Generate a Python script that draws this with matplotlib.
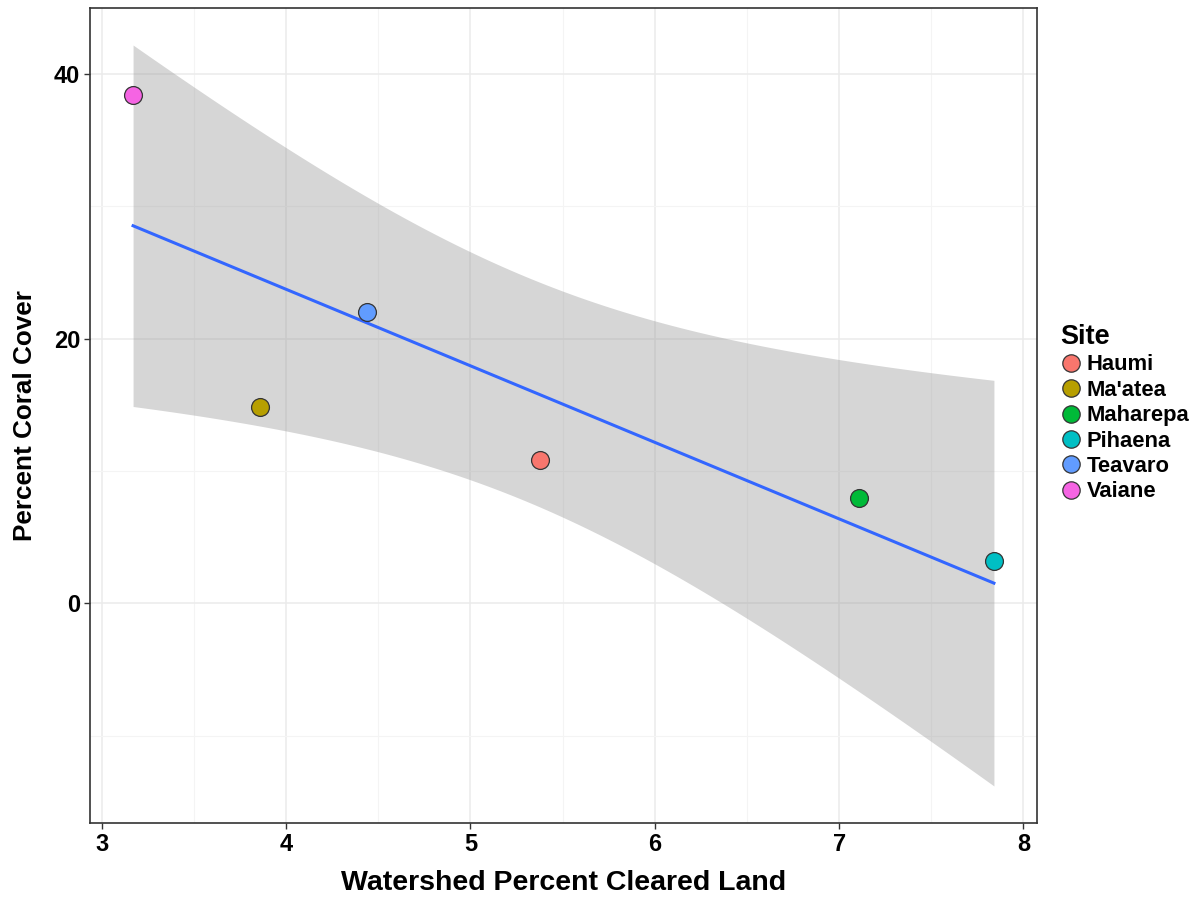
import numpy as np
import matplotlib
matplotlib.use('Agg')
import matplotlib.pyplot as plt
from matplotlib.lines import Line2D

plt.rcParams['font.family'] = ['Liberation Sans', 'DejaVu Sans']
plt.rcParams['font.weight'] = 'bold'

sites = ['Haumi', "Ma'atea", 'Maharepa', 'Pihaena', 'Teavaro', 'Vaiane']
cleared = [5.38, 3.86, 7.11, 7.84, 4.44, 3.17]
coral = [10.85, 14.85, 7.95, 3.2, 22.05, 38.4]
colors = ['#F8766D', '#B79F00', '#00BA38', '#00BFC4', '#619CFF', '#F564E3']

x = np.array(cleared)
y = np.array(coral)

# linear fit with 95% confidence band (t quantile for df = n - 2 = 4)
n = len(x)
slope, intercept = np.polyfit(x, y, 1)
resid = y - (intercept + slope * x)
s = np.sqrt(np.sum(resid ** 2) / (n - 2))
t_crit = 2.776445
xs = np.linspace(x.min(), x.max(), 200)
fit = intercept + slope * xs
se = s * np.sqrt(1 / n + (xs - x.mean()) ** 2 / np.sum((x - x.mean()) ** 2))
lo = fit - t_crit * se
hi = fit + t_crit * se

fig = plt.figure(figsize=(12.02, 8.97), dpi=100)
ax = fig.add_axes([0.0749, 0.0825, 0.7878, 0.9086])

# grid
for v in [3, 4, 5, 6, 7, 8]:
    ax.axvline(v, color='#ebebeb', lw=1.1, zorder=0)
for v in [3.5, 4.5, 5.5, 6.5, 7.5]:
    ax.axvline(v, color='#f4f4f4', lw=0.8, zorder=0)
for v in [0, 20, 40]:
    ax.axhline(v, color='#ebebeb', lw=1.1, zorder=0)
for v in [-10, 10, 30]:
    ax.axhline(v, color='#f4f4f4', lw=0.8, zorder=0)

ax.fill_between(xs, lo, hi, color='#999999', alpha=0.4, lw=0, zorder=1)
ax.plot(xs, fit, color='#3366FF', lw=2.2, zorder=2)

for xi, yi, c in zip(cleared, coral, colors):
    ax.scatter(xi, yi, s=165, color=c, edgecolor='#333333', linewidth=0.9, zorder=3)

xr = x.max() - x.min()
ax.set_xlim(x.min() - 0.05 * xr, x.max() + 0.05 * xr)
yr = hi.max() - lo.min()
ax.set_ylim(lo.min() - 0.05 * yr, hi.max() + 0.05 * yr)

ax.set_xticks([3, 4, 5, 6, 7, 8])
ax.set_yticks([0, 20, 40])
ax.tick_params(axis='both', length=4, width=1, color='#333333', labelsize=17,
               labelcolor='black', pad=3)
for lab in ax.get_xticklabels() + ax.get_yticklabels():
    lab.set_fontweight('bold')
for sp in ax.spines.values():
    sp.set_color('#333333')
    sp.set_linewidth(1.2)

ax.set_xlabel('Watershed Percent Cleared Land', fontsize=20.5, fontweight='bold', labelpad=10)
ax.set_ylabel('Percent Coral Cover', fontsize=18.8, fontweight='bold', labelpad=12)

handles = [Line2D([], [], marker='o', linestyle='', markersize=12.5, markerfacecolor=c,
                  markeredgecolor='#333333', markeredgewidth=0.9) for c in colors]
leg = fig.legend(handles, sites, title='Site', loc='upper left',
                 bbox_to_anchor=(0.873, 0.651), frameon=False,
                 prop={'weight': 'bold', 'size': 15.8}, handletextpad=0.2,
                 labelspacing=0.2, borderpad=0, handlelength=1.0,
                 title_fontproperties={'weight': 'bold', 'size': 19.5})
leg._legend_box.align = 'left'

fig.savefig('out.png', dpi=100)
